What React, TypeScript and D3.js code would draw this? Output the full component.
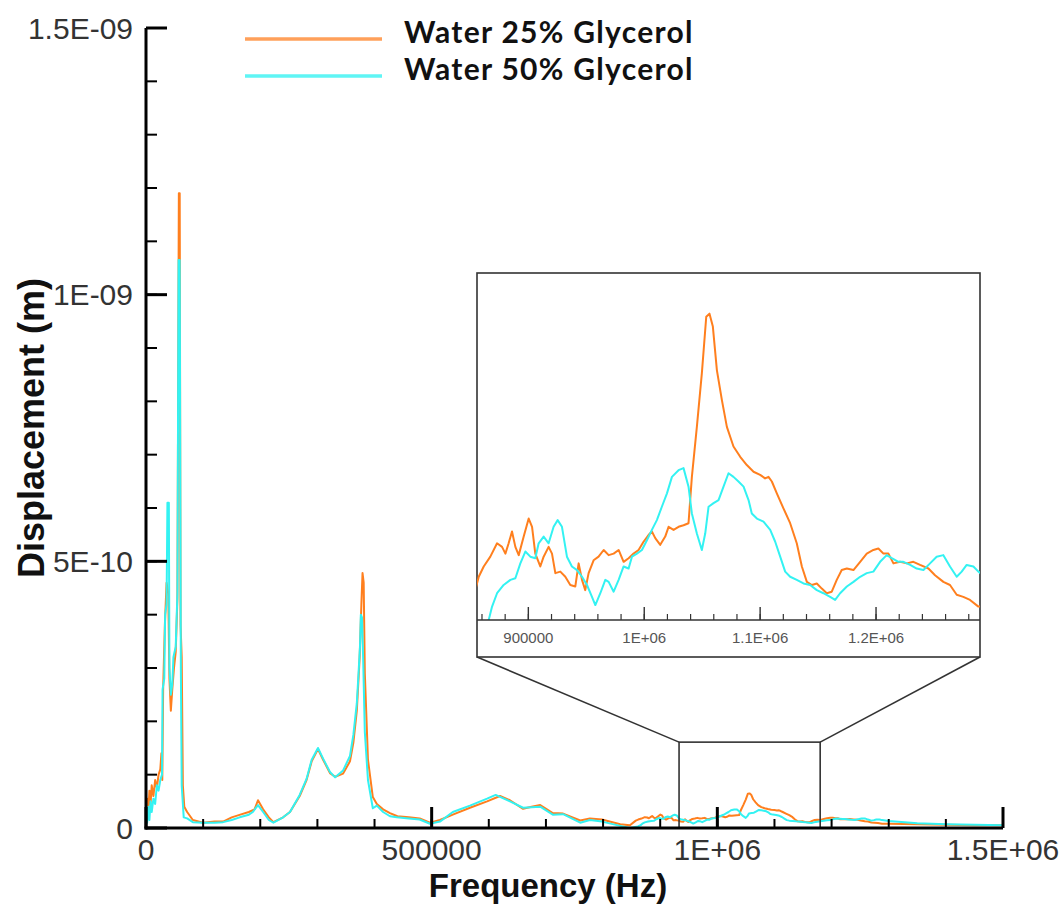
import React from "react";
import * as d3 from "d3";

// ---------- data: [frequency (Hz), displacement (m)] ----------
const water25: [number, number][] = [
  [0, 0.35e-10], [2000, 0.55e-10], [4000, 0.3e-10], [6000, 0.7e-10], [8000, 0.45e-10], [10000, 0.8e-10],
  [13000, 0.6e-10], [16000, 0.9e-10], [19000, 0.75e-10], [22000, 1.0e-10], [25000, 1.1e-10], [27000, 1.4e-10],
  [28500, 0.9e-10], [30000, 2.6e-10], [33000, 3.8e-10], [36000, 4.6e-10], [39000, 4.4e-10], [41000, 2.8e-10],
  [43500, 2.2e-10], [46000, 2.6e-10], [49000, 3.0e-10], [52000, 3.3e-10], [55000, 4.3e-10], [57500, 11.9e-10],
  [59000, 11.9e-10], [60500, 3.8e-10], [62500, 3.2e-10], [64500, 0.8e-10], [67000, 0.4e-10], [72000, 0.3e-10],
  [82000, 0.15e-10], [100000, 0.1e-10], [120000, 0.12e-10], [135000, 0.12e-10], [150000, 0.2e-10],
  [165000, 0.25e-10], [180000, 0.3e-10], [190000, 0.35e-10], [196000, 0.52e-10], [205000, 0.35e-10],
  [215000, 0.2e-10], [223000, 0.11e-10], [240000, 0.2e-10], [252000, 0.3e-10], [269000, 0.6e-10],
  [281000, 0.9e-10], [290000, 1.25e-10], [301000, 1.48e-10], [310000, 1.28e-10], [322000, 1.03e-10],
  [331000, 0.96e-10], [345000, 1.02e-10], [357000, 1.25e-10], [363000, 1.6e-10], [369000, 2.2e-10],
  [374000, 3.2e-10], [377000, 4.2e-10], [379000, 4.78e-10], [381000, 4.6e-10], [383000, 2.9e-10],
  [388500, 1.28e-10], [397000, 0.58e-10], [404000, 0.45e-10], [415000, 0.35e-10], [427000, 0.28e-10],
  [440000, 0.22e-10], [460000, 0.2e-10], [479000, 0.18e-10], [497000, 0.1e-10], [514500, 0.15e-10],
  [537000, 0.25e-10], [567000, 0.38e-10], [597000, 0.5e-10], [619600, 0.6e-10], [637000, 0.52e-10],
  [660000, 0.36e-10], [675000, 0.4e-10], [690000, 0.43e-10], [712000, 0.28e-10], [730000, 0.27e-10],
  [760000, 0.14e-10], [777000, 0.18e-10], [798000, 0.16e-10], [830000, 0.07e-10], [847000, 0.05e-10],
  [857200, 1.38e-11], [861500, 1.58e-11], [867200, 1.77e-11], [873000, 2.03e-11], [877300, 1.96e-11],
  [880200, 1.83e-11], [883000, 2.03e-11], [885900, 2.26e-11], [888800, 1.96e-11], [891700, 1.8e-11],
  [896000, 2.16e-11], [900300, 2.51e-11], [903200, 2.35e-11], [906000, 1.83e-11], [910300, 1.58e-11],
  [913200, 1.77e-11], [917500, 1.96e-11], [920400, 1.83e-11], [923300, 1.45e-11], [927600, 1.48e-11],
  [931900, 1.38e-11], [936200, 1.22e-11], [940500, 1.19e-11], [943400, 1.64e-11], [946300, 1.32e-11],
  [949100, 1.12e-11], [952000, 1.45e-11], [956300, 1.7e-11], [960600, 1.77e-11], [965000, 1.9e-11],
  [969300, 1.8e-11], [973600, 1.83e-11], [977900, 1.9e-11], [982200, 1.67e-11], [986500, 1.74e-11],
  [990800, 1.83e-11], [995100, 1.9e-11], [999400, 2.06e-11], [1003700, 2.19e-11], [1006600, 2.26e-11],
  [1009500, 2.13e-11], [1013800, 2.0e-11], [1018100, 2.16e-11], [1021000, 2.35e-11], [1025300, 2.29e-11],
  [1029600, 2.35e-11], [1033900, 2.38e-11], [1038200, 2.42e-11], [1041100, 3.32e-11], [1045400, 4.29e-11],
  [1049700, 5.33e-11], [1053500, 6.43e-11], [1056300, 6.49e-11], [1059200, 6.24e-11], [1062700, 5.39e-11],
  [1067000, 4.81e-11], [1071300, 4.29e-11], [1077000, 3.91e-11], [1082800, 3.71e-11], [1088500, 3.55e-11],
  [1094300, 3.42e-11], [1100000, 3.36e-11], [1104300, 3.29e-11], [1107200, 3.32e-11], [1110100, 3.23e-11],
  [1114400, 3.0e-11], [1120100, 2.71e-11], [1125900, 2.42e-11], [1131600, 2.03e-11], [1136000, 1.58e-11],
  [1140300, 1.28e-11], [1144600, 1.22e-11], [1148900, 1.25e-11], [1153200, 1.15e-11], [1157500, 1.06e-11],
  [1161800, 1.09e-11], [1166100, 1.32e-11], [1170400, 1.51e-11], [1174800, 1.54e-11], [1180500, 1.51e-11],
  [1186300, 1.67e-11], [1192000, 1.83e-11], [1197700, 1.9e-11], [1202000, 1.93e-11], [1206400, 1.83e-11],
  [1210700, 1.83e-11], [1215000, 1.64e-11], [1220700, 1.67e-11], [1226500, 1.64e-11], [1232200, 1.67e-11],
  [1238000, 1.61e-11], [1245200, 1.54e-11], [1250900, 1.41e-11], [1258100, 1.28e-11], [1263800, 1.22e-11],
  [1269600, 1.03e-11], [1275300, 0.99e-11], [1281100, 0.93e-11], [1288300, 0.8e-11],
  [1300000, 0.8e-11], [1350000, 0.7e-11], [1400000, 0.6e-11], [1450000, 0.5e-11], [1500000, 0.5e-11],
];

const water50: [number, number][] = [
  [0, 0.25e-10], [2000, 0.1e-10], [4000, 0.4e-10], [6000, 0.15e-10], [8000, 0.5e-10], [10000, 0.3e-10],
  [13000, 0.55e-10], [16000, 0.45e-10], [19000, 0.8e-10], [22000, 0.7e-10], [25000, 0.9e-10], [28000, 1.0e-10],
  [29000, 2.6e-10], [32000, 2.8e-10], [33500, 4.0e-10], [36000, 4.2e-10], [37500, 6.1e-10], [40000, 6.1e-10],
  [41000, 3.0e-10], [43500, 2.5e-10], [46000, 2.7e-10], [48000, 3.2e-10], [52000, 3.4e-10], [55000, 4.4e-10],
  [57000, 10.65e-10], [59000, 10.65e-10], [61000, 3.0e-10], [62500, 0.8e-10], [66000, 0.2e-10], [72000, 0.18e-10],
  [82000, 0.11e-10], [100000, 0.1e-10], [120000, 0.1e-10], [135000, 0.11e-10], [150000, 0.15e-10],
  [164000, 0.2e-10], [180000, 0.25e-10], [187000, 0.3e-10], [196000, 0.43e-10], [205000, 0.3e-10],
  [215000, 0.15e-10], [223000, 0.1e-10], [240000, 0.2e-10], [252000, 0.3e-10], [269000, 0.62e-10],
  [281000, 0.92e-10], [290000, 1.28e-10], [301000, 1.5e-10], [310000, 1.3e-10], [322000, 1.05e-10],
  [331000, 0.95e-10], [345000, 1.08e-10], [357000, 1.35e-10], [363000, 1.75e-10], [369000, 2.34e-10],
  [372000, 2.9e-10], [374500, 3.4e-10], [376000, 4.0e-10], [378000, 3.95e-10], [380000, 3.2e-10],
  [383000, 1.8e-10], [388500, 0.9e-10], [397000, 0.37e-10], [404000, 0.42e-10], [415000, 0.3e-10],
  [427000, 0.22e-10], [439000, 0.2e-10], [460000, 0.18e-10], [479000, 0.16e-10], [497000, 0.08e-10],
  [514500, 0.12e-10], [537000, 0.3e-10], [567000, 0.42e-10], [597000, 0.55e-10], [612000, 0.62e-10],
  [637000, 0.5e-10], [660000, 0.38e-10], [690000, 0.4e-10], [712000, 0.25e-10], [730000, 0.26e-10],
  [760000, 0.1e-10], [777000, 0.15e-10], [798000, 0.12e-10], [830000, 0.04e-10], [847000, 0.0],
  [861000, 0.3e-11], [865800, 0.54e-11], [868700, 0.8e-11], [873000, 1.06e-11], [878700, 1.22e-11],
  [884500, 1.32e-11], [888800, 1.35e-11], [893100, 1.64e-11], [897400, 1.87e-11], [901700, 1.77e-11],
  [906000, 1.74e-11], [908900, 2.03e-11], [913200, 2.16e-11], [917500, 2.03e-11], [921800, 2.35e-11],
  [925300, 2.48e-11], [929000, 2.35e-11], [933300, 1.77e-11], [937600, 1.58e-11], [942000, 1.51e-11],
  [946300, 1.38e-11], [950600, 1.22e-11], [954900, 0.99e-11], [957800, 0.83e-11], [962100, 1.06e-11],
  [966400, 1.32e-11], [969300, 1.28e-11], [973600, 1.09e-11], [977900, 1.32e-11], [982200, 1.58e-11],
  [986500, 1.54e-11], [989400, 1.77e-11], [993700, 1.83e-11], [998000, 1.9e-11], [1002300, 2.09e-11],
  [1006600, 2.29e-11], [1010900, 2.48e-11], [1015200, 2.74e-11], [1019600, 3.0e-11], [1023900, 3.32e-11],
  [1029600, 3.45e-11], [1033900, 3.49e-11], [1038200, 3.13e-11], [1041100, 2.61e-11], [1045400, 2.22e-11],
  [1049700, 1.9e-11], [1052600, 2.22e-11], [1055500, 2.74e-11], [1059800, 2.81e-11], [1064100, 2.87e-11],
  [1068400, 3.13e-11], [1072700, 3.39e-11], [1077000, 3.32e-11], [1081300, 3.23e-11], [1085700, 3.13e-11],
  [1090000, 2.87e-11], [1092800, 2.61e-11], [1097200, 2.51e-11], [1102900, 2.45e-11], [1108700, 2.29e-11],
  [1113000, 2.06e-11], [1117300, 1.77e-11], [1121600, 1.48e-11], [1125900, 1.38e-11], [1131600, 1.32e-11],
  [1137400, 1.25e-11], [1143100, 1.22e-11], [1148900, 1.12e-11], [1154600, 1.06e-11], [1160400, 0.99e-11],
  [1164700, 0.93e-11], [1169000, 1.06e-11], [1174800, 1.19e-11], [1180500, 1.28e-11], [1186300, 1.38e-11],
  [1192000, 1.45e-11], [1197700, 1.48e-11], [1203500, 1.67e-11], [1209200, 1.8e-11], [1213600, 1.74e-11],
  [1219300, 1.67e-11], [1223600, 1.67e-11], [1229400, 1.61e-11], [1235100, 1.54e-11], [1240900, 1.51e-11],
  [1246600, 1.64e-11], [1252300, 1.77e-11], [1258100, 1.8e-11], [1263800, 1.58e-11], [1269600, 1.38e-11],
  [1273900, 1.48e-11], [1278200, 1.61e-11], [1284000, 1.58e-11], [1288300, 1.48e-11],
  [1300000, 1.3e-11], [1350000, 0.9e-11], [1400000, 0.7e-11], [1450000, 0.6e-11], [1500000, 0.5e-11],
];

const seriesNames = ["Water 25% Glycerol", "Water 50% Glycerol"];
const seriesColors = ["#ff7f1e", "#33f2f2"];
const legendColors = ["#ffa05a", "#5ff5f5"];

const xMajorTicks = [0, 500000, 1000000, 1500000];
const xMajorLabels = ["0", "500000", "1E+06", "1.5E+06"];
const yMajorTicks = [0, 5e-10, 1e-9, 1.5e-9];
const yMajorLabels = ["0", "5E-10", "1E-09", "1.5E-09"];

const insetMajorTicks = [900000, 1000000, 1100000, 1200000];
const insetMajorLabels = ["900000", "1E+06", "1.1E+06", "1.2E+06"];
const insetXDomain = [855700, 1289700];
const insetYDomain = [0.54e-11, 7.28e-11];
const zoomBoxX = [933000, 1180000];
const zoomBoxY = [0, 1.61e-10];

export default function App() {
  const x = d3.scaleLinear().domain([0, 1.5e6]).range([146, 1003]);
  const y = d3.scaleLinear().domain([0, 1.5e-9]).range([828, 28]);
  const line = d3.line<[number, number]>().x((d) => x(d[0])).y((d) => y(d[1]));

  const ix = d3.scaleLinear().domain(insetXDomain).range([477, 980]);
  const iy = d3.scaleLinear().domain(insetYDomain).range([620, 273]);
  const iLine = d3.line<[number, number]>().x((d) => ix(d[0])).y((d) => iy(d[1]));

  const xMinor = d3.range(0, 1.5e6 + 1, 1e5);
  const yMinor = d3.range(0, 15.5, 1).map((k) => k * 1e-10);
  const insetMinor = d3.range(860000, 1289700, 20000);

  const tickFont = "Arial, 'Liberation Sans', Helvetica, sans-serif";
  const series = [water25, water50];

  const bx0 = x(zoomBoxX[0]), bx1 = x(zoomBoxX[1]);
  const by0 = y(zoomBoxY[1]), by1 = y(zoomBoxY[0]);
  const insetBottom = 657;

  return (
    <svg width={1063} height={907} style={{ position: "absolute", left: 0, top: 0, background: "#fff" }}
      xmlns="http://www.w3.org/2000/svg">
      <defs>
        <clipPath id="insetClip">
          <rect x={477} y={273} width={503} height={347} />
        </clipPath>
      </defs>

      {/* main data lines */}
      {series.map((s, i) => (
        <path key={i} d={line(s) || ""} fill="none" stroke={seriesColors[i]} strokeWidth={2} strokeLinejoin="round" />
      ))}

      {/* zoom rectangle & connectors */}
      <rect x={bx0} y={by0} width={bx1 - bx0} height={by1 - by0} fill="none" stroke="#333" strokeWidth={1.6} />
      <line x1={bx0} y1={by0} x2={477} y2={insetBottom} stroke="#333" strokeWidth={1.6} />
      <line x1={bx1} y1={by0} x2={980} y2={insetBottom} stroke="#333" strokeWidth={1.6} />

      {/* inset */}
      <rect x={477} y={273} width={503} height={insetBottom - 273} fill="#fff" stroke="#333" strokeWidth={1.6} />
      <g clipPath="url(#insetClip)">
        {series.map((s, i) => (
          <path key={i} d={iLine(s) || ""} fill="none" stroke={seriesColors[i]} strokeWidth={2} strokeLinejoin="round" />
        ))}
      </g>
      <line x1={477} x2={980} y1={620} y2={620} stroke="#333" strokeWidth={1.6} />
      {insetMinor.map((t) => (
        <line key={"im" + t} x1={ix(t)} x2={ix(t)} y1={620} y2={614} stroke="#333" strokeWidth={1.2} />
      ))}
      {insetMajorTicks.map((t, i) => (
        <g key={"iM" + t}>
          <line x1={ix(t)} x2={ix(t)} y1={620} y2={607} stroke="#333" strokeWidth={1.4} />
          <text x={ix(t)} y={643} textAnchor="middle" fontFamily={tickFont} fontSize={15} fill="#555">
            {insetMajorLabels[i]}
          </text>
        </g>
      ))}

      {/* main axes */}
      <line x1={146} x2={146} y1={y(1.5e-9)} y2={y(0) + 1.5} stroke="#000" strokeWidth={3} />
      <line x1={144.5} x2={x(1.5e6)} y1={y(0)} y2={y(0)} stroke="#000" strokeWidth={3} />
      {xMinor.map((t) => (
        <line key={"xm" + t} x1={x(t)} x2={x(t)} y1={828} y2={819} stroke="#000" strokeWidth={2} />
      ))}
      {yMinor.map((t, k) => (
        <line key={"ym" + k} x1={146} x2={157} y1={y(t)} y2={y(t)} stroke="#000" strokeWidth={2} />
      ))}
      {xMajorTicks.map((t, i) => (
        <g key={"xM" + t}>
          <line x1={x(t)} x2={x(t)} y1={828} y2={807} stroke="#000" strokeWidth={3} />
          <text x={x(t)} y={860} textAnchor="middle" fontFamily={tickFont} fontSize={30} fill="#333">
            {xMajorLabels[i]}
          </text>
        </g>
      ))}
      {yMajorTicks.map((t, i) => (
        <g key={"yM" + t}>
          <line x1={146} x2={167} y1={y(t)} y2={y(t)} stroke="#000" strokeWidth={3} />
          <text x={133} y={y(t)} dy="0.36em" textAnchor="end" fontFamily={tickFont} fontSize={30} fill="#333">
            {yMajorLabels[i]}
          </text>
        </g>
      ))}

      {/* axis titles */}
      <text x={548} y={897} textAnchor="middle" fontFamily={tickFont} fontWeight="bold" fontSize={33} fill="#111">
        Frequency (Hz)
      </text>
      <text transform="translate(44,428) rotate(-90)" textAnchor="middle" fontFamily={tickFont} fontWeight="bold"
        fontSize={36} fill="#111">
        Displacement (m)
      </text>

      {/* legend */}
      {seriesNames.map((n, i) => (
        <g key={n}>
          <line x1={245} x2={382} y1={39 + i * 37} y2={39 + i * 37} stroke={legendColors[i]} strokeWidth={3.5} />
          <text x={404} y={43 + i * 37} fontFamily="Lato, 'Open Sans', sans-serif" fontWeight="bold" fontSize={30}
            letterSpacing={1.3} fill="#111">
            {n}
          </text>
        </g>
      ))}
    </svg>
  );
}
